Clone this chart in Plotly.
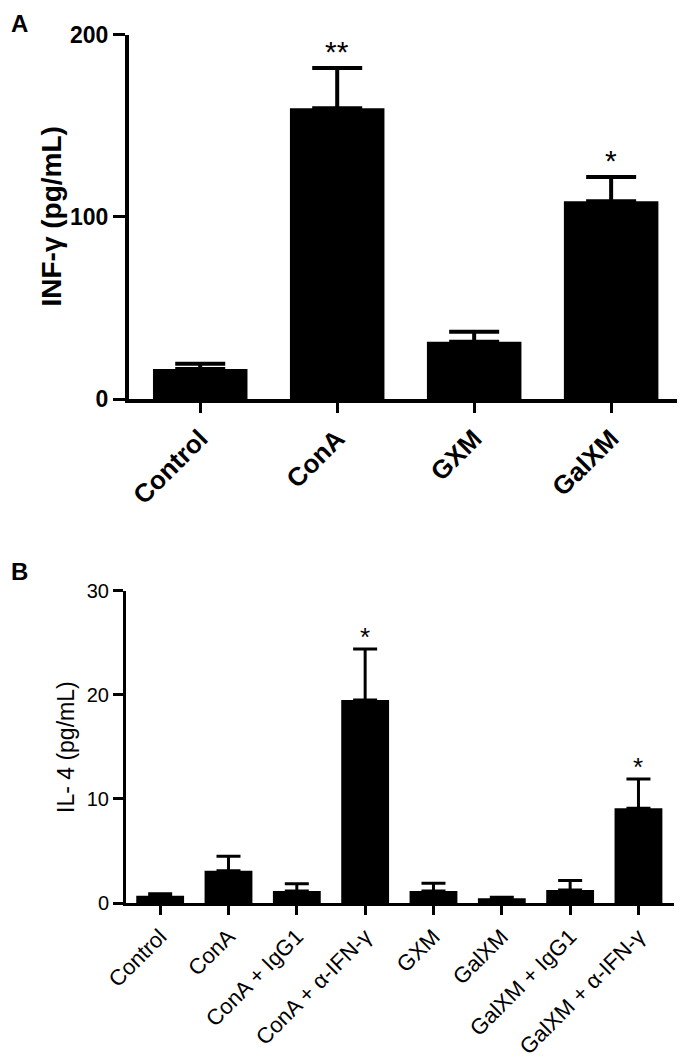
import plotly.graph_objects as go

# Panel A data
cats_a = ["Control", "ConA", "GXM", "GalXM"]
vals_a = [16.4, 159.6, 31.4, 108.5]
errs_a = [3.0, 22.0, 5.5, 13.3]
stars_a = ["", "**", "", "*"]

# Panel B data
cats_b = ["Control", "ConA", "ConA + IgG1", "ConA + α-IFN-γ", "GXM", "GalXM",
          "GalXM + IgG1", "GalXM + α-IFN-γ"]
vals_b = [0.7, 3.1, 1.15, 19.5, 1.15, 0.45, 1.25, 9.1]
errs_b = [0.2, 1.4, 0.7, 4.9, 0.75, 0.1, 0.9, 2.8]
stars_b = ["", "", "", "*", "", "", "", "*"]

FONT = "Arial, Liberation Sans, sans-serif"
W, H = 685, 1064
OFF = 8  # page body margin of the browser


def px(x):
    return (x - OFF) / W


def py(y):
    return 1 - (y - OFF) / H


fig = go.Figure()
fig.add_trace(go.Bar(
    x=cats_a, y=vals_a, width=0.69, marker=dict(color="black", line=dict(width=0)),
    error_y=dict(type="data", array=errs_a, arrayminus=[0]*len(errs_a), symmetric=False,
                 color="black", thickness=4, width=25),
    xaxis="x", yaxis="y", showlegend=False))
fig.add_trace(go.Bar(
    x=cats_b, y=vals_b, width=0.7, marker=dict(color="black", line=dict(width=0)),
    error_y=dict(type="data", array=errs_b, arrayminus=[0]*len(errs_b), symmetric=False,
                 color="black", thickness=3, width=12),
    xaxis="x2", yaxis="y2", showlegend=False))

annotations = []
for c, v, e, s in zip(cats_a, vals_a, errs_a, stars_a):
    if s:
        annotations.append(dict(x=c, y=v + e, xref="x", yref="y", text=s, showarrow=False,
                                yanchor="bottom", yshift=-2,
                                font=dict(family=FONT, size=30, color="black")))
for c, v, e, s in zip(cats_b, vals_b, errs_b, stars_b):
    if s:
        annotations.append(dict(x=c, y=v + e, xref="x2", yref="y2", text=s, showarrow=False,
                                yanchor="bottom", yshift=-5,
                                font=dict(family=FONT, size=26, color="black")))

annotations += [
    dict(x=px(51), y=py(216.5), xref="paper", yref="paper", text="<b>INF-γ (pg/mL)</b>",
         textangle=-90, showarrow=False, xanchor="center", yanchor="middle",
         font=dict(family=FONT, size=28, color="black")),
    dict(x=px(66), y=py(747), xref="paper", yref="paper", text="IL- 4 (pg/mL)",
         textangle=-90, showarrow=False, xanchor="center", yanchor="middle",
         font=dict(family=FONT, size=23, color="black")),
    dict(x=px(19), y=1.0, xref="paper", yref="paper", text="<b>A</b>",
         showarrow=False, xanchor="center", yanchor="top",
         font=dict(family=FONT, size=24, color="black")),
    dict(x=px(19), y=py(571), xref="paper", yref="paper", text="<b>B</b>",
         showarrow=False, xanchor="center", yanchor="middle",
         font=dict(family=FONT, size=24, color="black")),
]

fig.update_layout(
    width=W, height=H, margin=dict(l=0, r=0, t=0, b=0, pad=0, autoexpand=False),
    paper_bgcolor="white", plot_bgcolor="white",
    font=dict(family=FONT, color="black"),
    bargap=0.3,
    xaxis=dict(domain=[px(129), px(681)], anchor="y", range=[-0.52, 3.51], automargin=False,
               showline=True, linecolor="black", linewidth=4, ticks="outside",
               ticklen=10, tickwidth=3, tickcolor="black", tickangle=-45,
               tickfont=dict(family=FONT, size=26, color="black", weight="bold"),
               showgrid=False, zeroline=False),
    yaxis=dict(domain=[py(399), py(34.5)], anchor="x", range=[0, 200], automargin=False,
               tickvals=[0, 100, 200], showline=True, linecolor="black", linewidth=4,
               ticks="outside", ticklen=12, tickwidth=3, tickcolor="black",
               tickfont=dict(family=FONT, size=23, color="black", weight="bold"),
               showgrid=False, zeroline=False),
    xaxis2=dict(domain=[px(126), px(674)], anchor="y2", range=[-0.5, 7.52], automargin=False,
                showline=True, linecolor="black", linewidth=3, ticks="outside",
                ticklen=9, tickwidth=3, tickcolor="black", tickangle=-45,
                tickfont=dict(family=FONT, size=22, color="black"),
                showgrid=False, zeroline=False),
    yaxis2=dict(domain=[py(903), py(590.7)], anchor="x2", range=[0, 30], automargin=False,
                tickvals=[0, 10, 20, 30], showline=True, linecolor="black", linewidth=3,
                ticks="outside", ticklen=10, tickwidth=3, tickcolor="black",
                tickfont=dict(family=FONT, size=20, color="black"),
                showgrid=False, zeroline=False),
    annotations=annotations,
)

fig.write_html("out.html")
